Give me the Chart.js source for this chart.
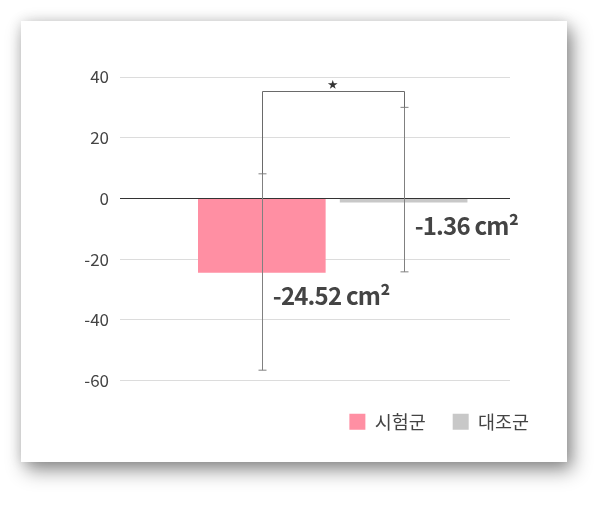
<!DOCTYPE html>
<html>
<head>
<meta charset="utf-8">
<script src="https://cdn.jsdelivr.net/npm/chart.js@4.4.0/dist/chart.umd.min.js"></script>
<style>
	html, body { margin: 0; padding: 0; background: #fff; }
	.card {
		position: absolute;
		left: 21px;
		top: 21px;
		width: 546px;
		height: 441px;
		background: #fff;
		box-shadow: 5px 8px 18px rgba(0, 0, 0, 0.45), 0 0 12px rgba(0, 0, 0, 0.12);
	}
</style>
</head>
<body>
<div class="card">
	<canvas id="myChart" width="546" height="441"></canvas>
</div>
<script>
const groups = ['시험군', '대조군'];
const changes = [-24.52, -1.36];
const errHigh = [8.1, 30.0];
const errLow = [-56.6, -24.2];
const yTicks = [-60, -40, -20, 0, 20, 40];
const bracketTop = 35.3;
const significance = '★';
const unit = 'cm²';
const colors = ['#ff8fa3', '#c8c8c8'];

const FONT = "'Noto Sans CJK KR', 'Noto Sans', sans-serif";

const datasets = groups.map((g, i) => ({
	label: g,
	data: [{ x: i + 1, y: changes[i] }],
	backgroundColor: colors[i],
	borderWidth: 0,
	grouped: false,
	barPercentage: 0.9,
	categoryPercentage: 1
}));

// error bars, bracket, star and value labels
const extras = {
	id: 'extras',
	afterDatasetsDraw(chart) {
		const c = chart.ctx;
		const x = chart.scales.x;
		const y = chart.scales.y;
		const xs = groups.map((g, i) => x.getPixelForValue(i + 1));
		c.save();
		c.lineWidth = 1;
		c.strokeStyle = '#808080';
		groups.forEach((g, i) => {
			const px = Math.round(xs[i]) + 0.5;
			const hi = y.getPixelForValue(errHigh[i]);
			const lo = y.getPixelForValue(errLow[i]);
			c.beginPath();
			c.moveTo(px, hi); c.lineTo(px, lo);
			c.moveTo(px - 4, hi); c.lineTo(px + 4, hi);
			c.moveTo(px - 4, lo); c.lineTo(px + 4, lo);
			c.stroke();
		});
		// significance bracket
		const top = Math.round(y.getPixelForValue(bracketTop)) + 0.5;
		c.strokeStyle = '#6a6a6a';
		c.beginPath();
		c.moveTo(Math.round(xs[0]) + 0.5, y.getPixelForValue(errHigh[0]));
		c.lineTo(Math.round(xs[0]) + 0.5, top);
		c.lineTo(Math.round(xs[1]) + 0.5, top);
		c.lineTo(Math.round(xs[1]) + 0.5, y.getPixelForValue(errHigh[1]));
		c.stroke();
		c.fillStyle = '#333';
		c.font = '10px ' + FONT;
		c.textAlign = 'center';
		c.textBaseline = 'bottom';
		c.fillText(significance, (xs[0] + xs[1]) / 2, top - 2);
		// value labels
		c.fillStyle = '#444';
		c.font = 'bold 24px ' + FONT;
		c.textAlign = 'left';
		c.textBaseline = 'alphabetic';
		if ('letterSpacing' in c) c.letterSpacing = '-0.8px';
		groups.forEach((g, i) => {
			const by = y.getPixelForValue(changes[i]);
			c.fillText(changes[i].toFixed(2) + ' ' + unit, xs[i] + 11, by + 32);
		});
		c.restore();
	}
};

const options = {
	responsive: false,
	animation: false,
	layout: {
		padding: { top: 56, left: 0, right: 11, bottom: 21 }
	},
	plugins: {
		legend: {
			position: 'bottom',
			align: 'end',
			labels: {
				boxWidth: 16,
				boxHeight: 16,
				padding: 27,
				color: '#444',
				font: { family: FONT, size: 18.5 }
			}
		},
		tooltip: { enabled: false }
	},
	scales: {
		x: {
			type: 'linear',
			min: 0,
			max: 2.75,
			offset: false,
			afterBuildTicks: scale => { scale.ticks = [0, 1, 2].map(v => ({ value: v })); },
			afterFit: scale => { scale.height = 5; },
			border: { display: false },
			grid: { display: false },
			ticks: { display: false }
		},
		y: {
			min: yTicks[0],
			max: yTicks[yTicks.length - 1],
			afterBuildTicks: scale => { scale.ticks = yTicks.map(v => ({ value: v })); },
			afterFit: scale => { scale.width = 99; },
			border: { display: false },
			grid: {
				drawTicks: false,
				color: ctx => (ctx.tick && ctx.tick.value === 0 ? '#333' : '#dcdcdc'),
				lineWidth: 1
			},
			ticks: {
				padding: 11,
				color: '#444',
				font: { family: FONT, size: 17 }
			}
		},
		y2: {
			position: 'right',
			display: true,
			afterFit: scale => { scale.width = 46; },
			border: { display: false },
			grid: { display: false },
			ticks: { display: false }
		}
	}
};

const ctx = document.getElementById('myChart');
const myChart = new Chart(ctx, {
	type: 'bar',
	data: { datasets },
	options,
	plugins: [extras]
});
</script>
</body>
</html>
